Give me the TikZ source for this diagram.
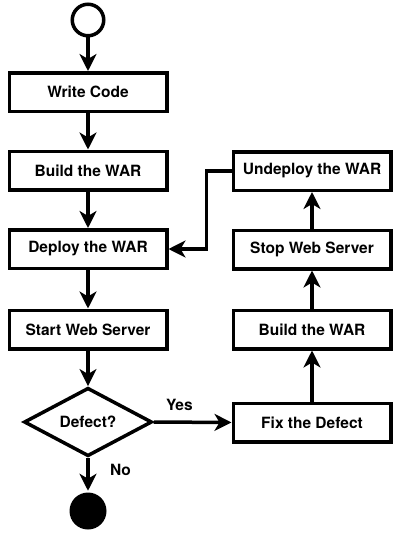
\documentclass[tikz,border=0pt]{standalone}
\usepackage{fontspec}
\setmainfont{TeX Gyre Heros}
\usetikzlibrary{positioning,arrows.meta,shapes.geometric}

\begin{document}
\begin{tikzpicture}[
  x=1pt, y=-1pt,
  font=\fontsize{15.5}{18}\selectfont\bfseries,
  line width=3.5pt,
  box/.style={draw, rectangle, minimum width=157.5pt, minimum height=38.5pt, inner sep=2pt},
  decision/.style={draw, diamond, minimum width=128pt, minimum height=64pt, inner sep=0pt},
  startdot/.style={draw, circle, minimum size=31.5pt, inner sep=0pt},
  enddot/.style={circle, fill=black, minimum size=37pt, inner sep=0pt},
  arr/.style={-{Stealth[length=17pt, width=17pt, inset=5pt]}},
]
\useasboundingbox (0,0) rectangle (400,535);

\node[startdot] (start)  at (88,20)     {};
\node[box]      (code)   at (88,92)     {Write Code};
\node[box]      (build)  at (88,170.5)  {Build the WAR};
\node[box]      (deploy) at (88,249)    {Deploy the WAR};
\node[box]      (srv)    at (88,329.5)  {Start Web Server};
\node[decision] (defect) at (88,422)    {Defect?};
\node[enddot]   (fin)    at (88,511)    {};

\node[box] (fix)    at (312,422.5) {Fix the Defect};
\node[box] (build2) at (312,329.5) {Build the WAR};
\node[box] (stop)   at (312,249.5) {Stop Web Server};
\node[box] (undep)  at (312,171)   {Undeploy the WAR};

\draw[arr] (start) -- (code);
\draw[arr] (code) -- (build);
\draw[arr] (build) -- (deploy);
\draw[arr] (deploy) -- (srv);
\draw[arr] (srv) -- (defect);
\draw[arr] (defect.south) -- node[pos=.36, right=17pt]{No} (fin);
\draw[arr] (defect.east) -- node[pos=.33, above=6pt]{Yes} (fix.west);
\draw[arr] (fix) -- (build2);
\draw[arr] (build2) -- (stop);
\draw[arr] (stop) -- (undep);
\draw[arr] (undep.west) -- ++(-25,0) |- (deploy.east);
\end{tikzpicture}
\end{document}
